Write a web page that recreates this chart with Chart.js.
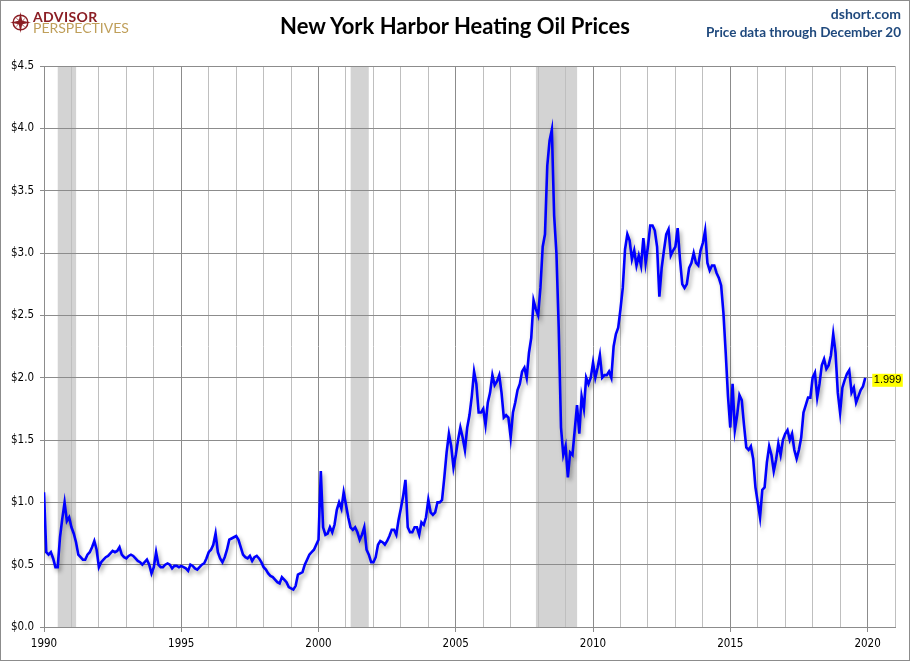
<!DOCTYPE html>
<html>
<head>
<meta charset="utf-8">
<title>New York Harbor Heating Oil Prices</title>
<script src="https://cdn.jsdelivr.net/npm/chart.js@4.4.1/dist/chart.umd.min.js"></script>
<style>
  html, body { margin: 0; padding: 0; background: #fff; }
  #frame { position: relative; width: 908px; height: 659px; border: 1px solid #8c8c8c; overflow: hidden; background: #fff; }
  #oilChart { position: absolute; left: 0; top: 0; }
  .txt { position: absolute; white-space: nowrap; font-family: Lato, "Open Sans", sans-serif; }
  #title { left: 0; width: 908px; text-align: center; top: 14px; font-size: 22px; line-height: 22px; font-weight: bold; color: #000; }
  #site { right: 8px; top: 6px; font-size: 14px; line-height: 14px; font-weight: bold; color: #1f497d; }
  #through { right: 8px; top: 24px; font-size: 13.5px; line-height: 14px; font-weight: bold; color: #1f497d; }
  #advisor { left: 32px; top: 9px; font-size: 14px; line-height: 14px; font-weight: bold; color: #8b1e24; letter-spacing: 0.4px; }
  #persp { left: 32px; top: 20px; font-size: 14px; line-height: 14px; color: #bf9f5a; }
  #logo { position: absolute; left: 9px; top: 11px; }
</style>
</head>
<body>
<div id="frame">
  <canvas id="oilChart" width="908" height="659"></canvas>
  <svg id="logo" width="21" height="21" viewBox="0 0 20 20">
    <circle cx="10" cy="10" r="7" fill="none" stroke="#8b1e24" stroke-width="1.4"/>
    <polygon points="10,0 11.6,8.4 20,10 11.6,11.6 10,20 8.4,11.6 0,10 8.4,8.4" fill="#8b1e24"/>
    <polygon points="4.5,4.5 10.8,9.2 15.5,4.5 10.8,10.8 15.5,15.5 9.2,10.8 4.5,15.5 9.2,9.2" fill="#8b1e24"/>
  </svg>
  <div class="txt" id="advisor">ADVISOR</div>
  <div class="txt" id="persp">PERSPECTIVES</div>
  <div class="txt" id="title">New York Harbor Heating Oil Prices</div>
  <div class="txt" id="site">dshort.com</div>
  <div class="txt" id="through">Price data through December 20</div>
</div>
<script>
// monthly NY Harbor heating oil, $/gallon
const startYear = 1990;

const prices1990s = [
  1.08, 0.60, 0.58, 0.60, 0.55, 0.48, 0.48, 0.72, 0.87, 1.00, 0.85, 0.88, // 1990
  0.80, 0.75, 0.68, 0.58, 0.56, 0.54, 0.54, 0.58, 0.60, 0.64, 0.69, 0.62, // 1991
  0.48, 0.52, 0.54, 0.56, 0.57, 0.59, 0.61, 0.60, 0.61, 0.64, 0.58, 0.56, // 1992
  0.55, 0.57, 0.58, 0.57, 0.55, 0.53, 0.52, 0.50, 0.52, 0.54, 0.50, 0.43, // 1993
  0.48, 0.60, 0.50, 0.48, 0.48, 0.50, 0.51, 0.50, 0.47, 0.49, 0.49, 0.48, // 1994
  0.49, 0.48, 0.47, 0.45, 0.50, 0.49, 0.47, 0.46, 0.48, 0.50, 0.51, 0.55, // 1995
  0.60, 0.62, 0.66, 0.75, 0.60, 0.55, 0.52, 0.56, 0.62, 0.70, 0.71, 0.72, // 1996
  0.73, 0.70, 0.64, 0.58, 0.56, 0.55, 0.57, 0.53, 0.56, 0.57, 0.55, 0.52, // 1997
  0.48, 0.46, 0.43, 0.41, 0.40, 0.38, 0.36, 0.35, 0.40, 0.38, 0.36, 0.32, // 1998
  0.31, 0.30, 0.33, 0.42, 0.43, 0.44, 0.50, 0.54, 0.58, 0.60, 0.62, 0.66  // 1999
];

const prices2000s = [
  0.70, 1.25, 0.80, 0.74, 0.75, 0.80, 0.76, 0.82, 0.94, 1.00, 0.95, 1.08, // 2000
  0.98, 0.88, 0.80, 0.78, 0.80, 0.76, 0.70, 0.74, 0.80, 0.62, 0.58, 0.52, // 2001
  0.52, 0.56, 0.66, 0.69, 0.68, 0.66, 0.69, 0.73, 0.78, 0.78, 0.74, 0.86, // 2002
  0.95, 1.05, 1.18, 0.80, 0.76, 0.76, 0.80, 0.80, 0.74, 0.84, 0.82, 0.88, // 2003
  1.02, 0.92, 0.90, 0.92, 1.00, 1.00, 1.02, 1.20, 1.40, 1.55, 1.45, 1.28, // 2004
  1.38, 1.50, 1.60, 1.52, 1.42, 1.60, 1.70, 1.85, 2.05, 1.95, 1.72, 1.72, // 2005
  1.75, 1.62, 1.80, 1.88, 2.02, 1.94, 1.97, 2.02, 1.88, 1.68, 1.70, 1.68, // 2006
  1.52, 1.72, 1.80, 1.90, 1.95, 2.05, 2.08, 2.00, 2.20, 2.32, 2.62, 2.55, // 2007
  2.50, 2.72, 3.05, 3.15, 3.70, 3.90, 3.99, 3.30, 3.00, 2.40, 1.60, 1.38, // 2008
  1.45, 1.20, 1.40, 1.38, 1.58, 1.78, 1.55, 1.85, 1.75, 2.00, 1.95, 2.00  // 2009
];

const prices2010s = [
  2.12, 2.00, 2.08, 2.18, 2.00, 2.02, 2.02, 2.05, 2.00, 2.25, 2.35, 2.40, // 2010
  2.55, 2.72, 3.03, 3.15, 3.10, 2.95, 3.02, 2.90, 2.98, 2.90, 3.12, 2.92, // 2011
  3.05, 3.22, 3.22, 3.18, 3.05, 2.65, 2.88, 3.02, 3.15, 3.19, 2.98, 3.02, // 2012
  3.05, 3.20, 2.95, 2.75, 2.72, 2.75, 2.88, 2.92, 3.00, 2.92, 2.90, 3.02, // 2013
  3.08, 3.18, 2.92, 2.86, 2.90, 2.90, 2.84, 2.80, 2.74, 2.52, 2.20, 1.85, // 2014
  1.60, 1.95, 1.58, 1.70, 1.86, 1.82, 1.62, 1.44, 1.42, 1.45, 1.35, 1.12, // 2015
  1.00, 0.88, 1.10, 1.12, 1.32, 1.45, 1.38, 1.25, 1.34, 1.47, 1.38, 1.50, // 2016
  1.55, 1.58, 1.50, 1.55, 1.42, 1.35, 1.42, 1.52, 1.72, 1.78, 1.84, 1.84, // 2017
  2.00, 2.04, 1.84, 1.95, 2.10, 2.15, 2.07, 2.10, 2.18, 2.35, 2.20, 1.88, // 2018
  1.72, 1.92, 1.98, 2.03, 2.06, 1.88, 1.92, 1.80, 1.85, 1.90, 1.93, 1.999 // 2019
];

// recession shading, decimal years
const recessions = [[1990.5, 1991.17], [2001.17, 2001.83], [2007.92, 2009.42]];

const xMin = 1990, xMax = 2021;
const yMin = 0, yMax = 4.5, yStep = 0.5;
const labelEvery = 5;

const prices = prices1990s.concat(prices2000s, prices2010s);
const points = prices.map((v, i) => ({ x: startYear + i / 12, y: v }));

const tickFont = { family: "'DejaVu Sans Condensed', 'DejaVu Sans', sans-serif", size: 11.5 };
const gridDark = '#8c8c8c';
const gridLight = '#bfbfbf';

const recessionBands = {
  id: 'recessionBands',
  beforeDraw(chart) {
    const { ctx, chartArea, scales: { x } } = chart;
    ctx.save();
    ctx.fillStyle = '#d3d3d3';
    recessions.forEach(([a, b]) => {
      const x0 = x.getPixelForValue(a);
      const x1 = x.getPixelForValue(b);
      ctx.fillRect(x0, chartArea.top, x1 - x0, chartArea.bottom - chartArea.top);
    });
    ctx.restore();
  }
};

const lineShadow = {
  id: 'lineShadow',
  beforeDatasetDraw(chart) {
    const ctx = chart.ctx;
    ctx.save();
    ctx.shadowColor = 'rgba(0, 0, 0, 0.35)';
    ctx.shadowBlur = 4;
    ctx.shadowOffsetX = 2;
    ctx.shadowOffsetY = 3;
  },
  afterDatasetDraw(chart) {
    chart.ctx.restore();
  }
};

const lastValueLabel = {
  id: 'lastValueLabel',
  afterDatasetsDraw(chart) {
    const ctx = chart.ctx;
    const meta = chart.getDatasetMeta(0);
    const last = meta.data[meta.data.length - 1];
    const text = prices[prices.length - 1].toFixed(3);
    ctx.save();
    ctx.font = "11px 'Liberation Sans', Arial, sans-serif";
    const w = ctx.measureText(text).width;
    ctx.fillStyle = '#ffff00';
    ctx.fillRect(last.x + 7, last.y - 4, w + 3, 13);
    ctx.fillStyle = '#000';
    ctx.textBaseline = 'middle';
    ctx.fillText(text, last.x + 8.5, last.y + 2.5);
    ctx.restore();
  }
};

const isMajor = (v) => Math.round(v) % labelEvery === 0;

new Chart(document.getElementById('oilChart'), {
  type: 'line',
  data: {
    datasets: [{
      label: 'NY Harbor Heating Oil',
      data: points,
      borderColor: '#0000ff',
      borderWidth: 2.6,
      pointRadius: 0,
      tension: 0,
      fill: false
    }]
  },
  options: {
    responsive: false,
    animation: false,
    layout: { padding: { top: 65, right: 14, left: 0, bottom: 0 } },
    plugins: {
      legend: { display: false },
      tooltip: { enabled: true }
    },
    scales: {
      x: {
        type: 'linear',
        min: xMin,
        max: xMax,
        afterFit: (s) => { s.height = 33; },
        ticks: {
          stepSize: 1,
          autoSkip: false,
          maxRotation: 0,
          padding: 5,
          color: '#000',
          font: tickFont,
          callback: (v) => isMajor(v) && v < xMax ? String(v) : ''
        },
        grid: {
          color: (c) => isMajor(c.tick.value) && c.tick.value < xMax ? gridDark : gridLight,
          lineWidth: 1,
          tickLength: 5,
          tickColor: (c) => isMajor(c.tick.value) && c.tick.value < xMax ? gridDark : 'rgba(0,0,0,0)'
        },
        border: { color: gridDark }
      },
      y: {
        min: yMin,
        max: yMax,
        afterFit: (s) => { s.width = 43; },
        ticks: {
          stepSize: yStep,
          padding: 6,
          color: '#000',
          font: tickFont,
          callback: (v) => '$' + Number(v).toFixed(1)
        },
        grid: {
          color: gridDark,
          tickLength: 4,
          tickColor: gridDark
        },
        border: { color: gridDark }
      }
    }
  },
  plugins: [recessionBands, lineShadow, lastValueLabel]
});
</script>
</body>
</html>
